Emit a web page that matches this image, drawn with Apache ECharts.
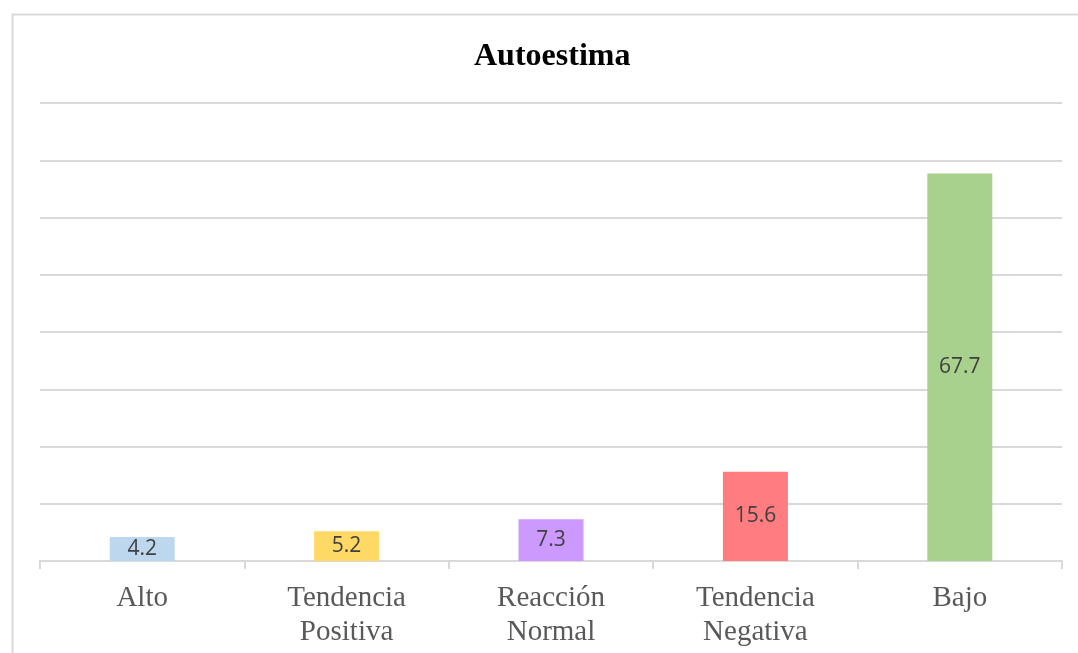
<!DOCTYPE html>
<html><head><meta charset="utf-8">
<script src="https://cdn.jsdelivr.net/npm/echarts@6/dist/echarts.min.js"></script>
<style>html,body{margin:0;padding:0;background:#fff}#c{width:1078px;height:653px}</style>
</head><body><div id="c"></div>
<script>
const categories = ['Alto', 'Tendencia\nPositiva', 'Reacción\nNormal', 'Tendencia\nNegativa', 'Bajo'];
const values = [4.2, 5.2, 7.3, 15.6, 67.7];
const colors = ['#bdd7ee', '#ffd966', '#cc99ff', '#ff7c80', '#a9d18e'];
const chart = echarts.init(document.getElementById('c'));
chart.setOption({
  animation: false,
  backgroundColor: '#fff',
  title: {
    text: 'Autoestima', left: 469, top: 36,
    textStyle: {fontFamily: 'Liberation Serif', fontWeight: 'bold', fontSize: 32, color: '#000'}
  },
  graphic: [{
    type: 'rect', left: 10, top: 12, silent: true,
    shape: {width: 1200, height: 800},
    style: {fill: 'none', stroke: '#d9d9d9', lineWidth: 2}
  }],
  grid: {left: 40, right: 16, top: 103, bottom: 92},
  xAxis: {
    type: 'category', data: categories,
    axisLine: {lineStyle: {color: '#d9d9d9', width: 2}},
    axisTick: {show: true, length: 8, lineStyle: {color: '#d9d9d9', width: 2}},
    axisLabel: {fontFamily: 'Liberation Serif', fontSize: 29, color: '#595959', lineHeight: 34, margin: 20}
  },
  yAxis: {
    type: 'value', min: 0, max: 80, interval: 10,
    axisLabel: {show: false}, axisLine: {show: false}, axisTick: {show: false},
    splitLine: {lineStyle: {color: '#d9d9d9', width: 2}}
  },
  series: [{
    type: 'bar', barWidth: 65,
    data: values.map((v, i) => ({value: v, itemStyle: {color: colors[i]}})),
    label: {show: true, position: 'inside', fontFamily: 'Open Sans', fontSize: 21, color: '#404040',
      formatter: p => p.value.toFixed(1)}
  }]
});
</script></body></html>
